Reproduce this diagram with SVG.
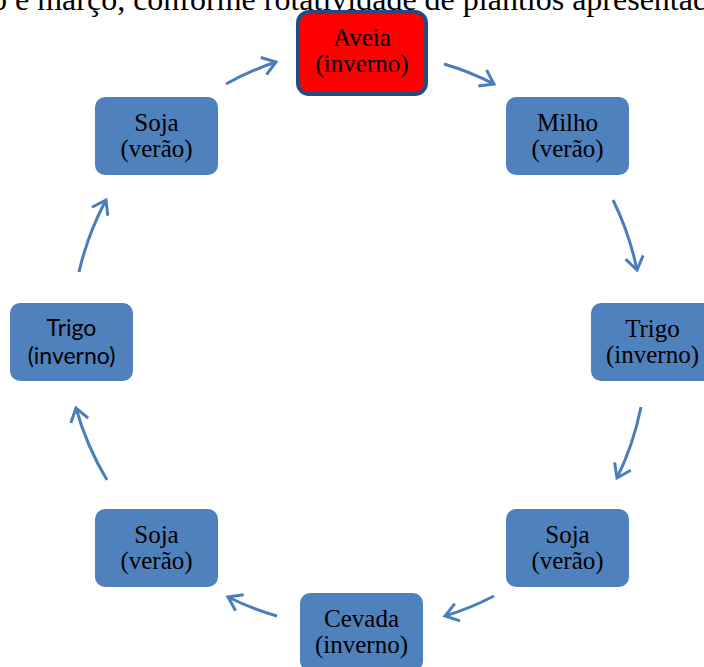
<svg xmlns="http://www.w3.org/2000/svg" width="704" height="667" viewBox="0 0 704 667">
<defs>
<style>
.box{fill:#4F81BD;}
.st{font-family:"Liberation Serif","Times New Roman",serif;font-size:25px;fill:#000;text-anchor:middle;}
.ss{font-family:Lato,"Liberation Sans",sans-serif;font-size:23px;fill:#000;text-anchor:middle;}
.arr{fill:none;stroke:#4A7EBB;stroke-width:3;marker-end:url(#ah);}
.top{font-family:"Liberation Serif","Times New Roman",serif;font-size:32px;fill:#000;}
</style>
<marker id="ah" viewBox="-16 -12 19 24" refX="0" refY="0" markerWidth="19" markerHeight="24" markerUnits="userSpaceOnUse" orient="auto">
<path d="M-13,-9 L0,0 L-13,9" fill="none" stroke="#4A7EBB" stroke-width="3"/>
</marker>
</defs>
<rect width="704" height="667" fill="#fff"/>
<text class="top" x="-9" y="10">o e março, conforme rotatividade de plantios apresentad</text>

<g id="connectors">
<path class="arr" d="M226,84 A290,290 0 0 1 276,62"/>
<path class="arr" d="M444,64 A290,290 0 0 1 494,84"/>
<path class="arr" d="M613,200 A290,290 0 0 1 637,270"/>
<path class="arr" d="M641,407 A290,290 0 0 1 617,478"/>
<path class="arr" d="M494,596 A290,290 0 0 1 445,616"/>
<path class="arr" d="M277,616 A290,290 0 0 1 228,597"/>
<path class="arr" d="M107,480 A290,290 0 0 1 76,408"/>
<path class="arr" d="M79,272 A290,290 0 0 1 106,200"/>
</g>

<g id="aveia">
<rect x="298" y="12" width="128" height="82" rx="11" fill="#FF0000" stroke="#244B7E" stroke-width="4"/>
<text class="st" x="362" y="46">Aveia</text>
<text class="st" x="362" y="72">(inverno)</text>
</g>
<g id="milho">
<rect class="box" x="506" y="97" width="123" height="78" rx="10"/>
<text class="st" x="567.5" y="131">Milho</text>
<text class="st" x="567.5" y="157">(verão)</text>
</g>
<g id="trigo-direita">
<rect class="box" x="591" y="303" width="123" height="78" rx="10"/>
<text class="st" x="652.5" y="337">Trigo</text>
<text class="st" x="652.5" y="363">(inverno)</text>
</g>
<g id="soja-inf-direita">
<rect class="box" x="506" y="509" width="123" height="78" rx="10"/>
<text class="st" x="567.5" y="543">Soja</text>
<text class="st" x="567.5" y="569">(verão)</text>
</g>
<g id="cevada">
<rect class="box" x="300" y="593" width="123" height="78" rx="10"/>
<text class="st" x="361.5" y="627">Cevada</text>
<text class="st" x="361.5" y="653">(inverno)</text>
</g>
<g id="soja-inf-esquerda">
<rect class="box" x="95" y="509" width="123" height="78" rx="10"/>
<text class="st" x="156.5" y="543">Soja</text>
<text class="st" x="156.5" y="569">(verão)</text>
</g>
<g id="trigo-esquerda">
<rect class="box" x="10" y="303" width="123" height="78" rx="10"/>
<text class="ss" x="71.5" y="336">Trigo</text>
<text class="ss" x="71.5" y="364">(inverno)</text>
</g>
<g id="soja-sup-esquerda">
<rect class="box" x="95" y="97" width="123" height="78" rx="10"/>
<text class="st" x="156.5" y="131">Soja</text>
<text class="st" x="156.5" y="157">(verão)</text>
</g>
</svg>
